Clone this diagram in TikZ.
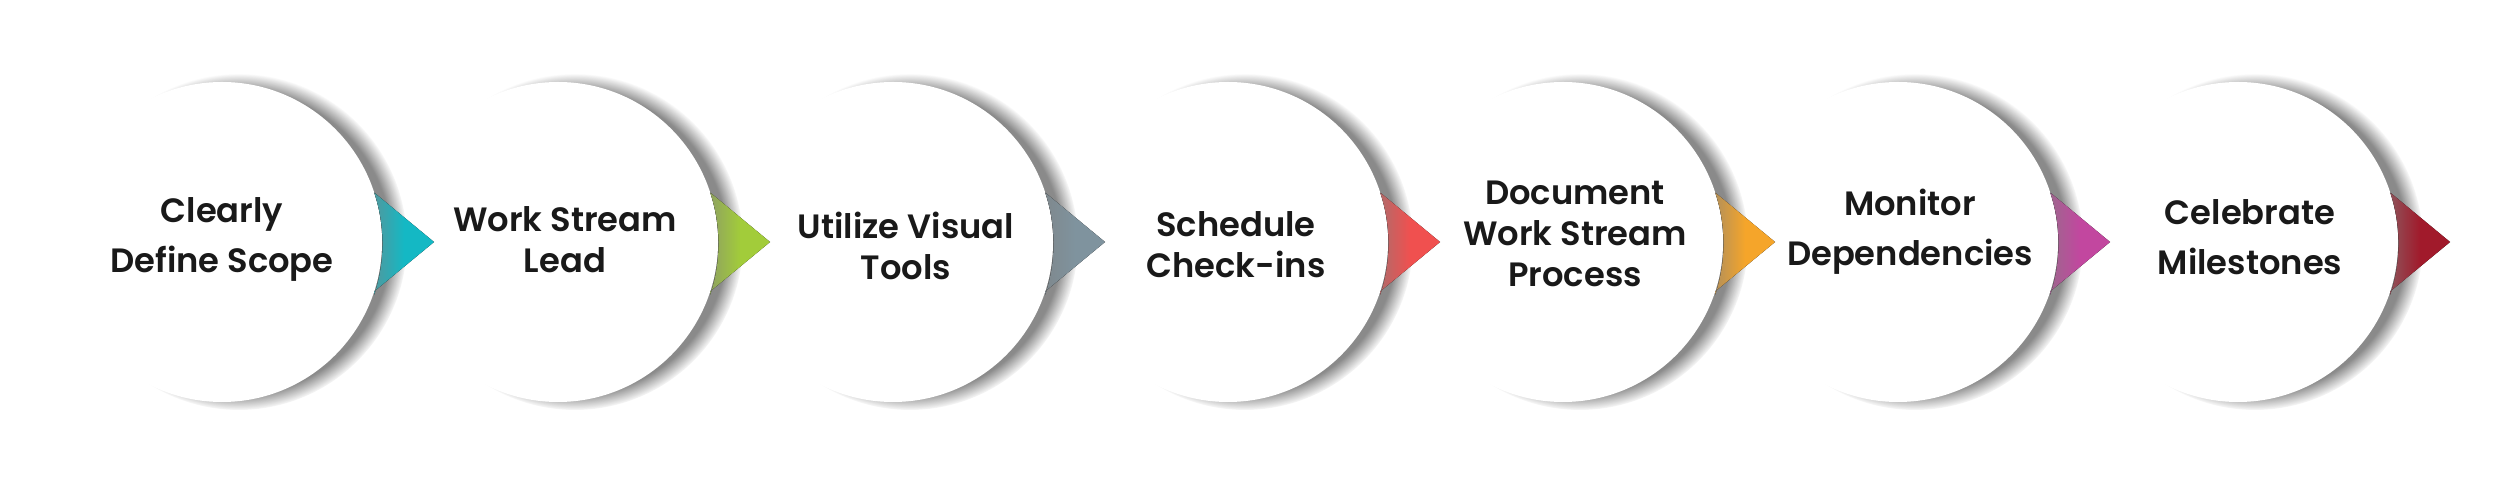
\documentclass[tikz,border=0pt]{standalone}
\usepackage{fontspec}
\setmainfont{Poppins}[BoldFont={Poppins SemiBold}]
\usepackage{tikz}
\usetikzlibrary{shadows,fadings}

\definecolor{cteal}{HTML}{14B8C4}
\definecolor{clime}{HTML}{A2CC3A}
\definecolor{cslate}{HTML}{7F939E}
\definecolor{cred}{HTML}{F0504F}
\definecolor{corange}{HTML}{F5A52A}
\definecolor{cmagenta}{HTML}{C2479F}
\definecolor{cwine}{HTML}{A11A2B}

\begin{document}
\begin{tikzpicture}

    \tikzstyle{stage} = [circle, minimum size=3.2cm, inner sep=0pt, outer sep=0pt, fill=white, circular drop shadow={shadow scale=1.05, shadow xshift=1.6mm, shadow yshift=0mm, opacity=.7, fill=black!65, path fading=circle with fuzzy edge 10 percent}]
    \tikzstyle{lbl} = [align=center, inner sep=0pt, anchor=base, text=black!90, font=\bfseries\fontsize{9.6}{14.5}\selectfont]
    \tikzstyle{tight} = [font=\bfseries\fontsize{9.6}{11.7}\selectfont]
    \tikzstyle{chev} = [draw=none]

    % Background
    \fill[white] (0,-2.49) rectangle (25,2.42);
    \useasboundingbox (0,-2.49) rectangle (25,2.42);

    % Nodes (right to left, so each shadow lies over the next circle)
    \node[stage] at (22.38,0) (c7) {};
    \node[stage] at (18.98,0) (c6) {};
    \node[stage] at (15.63,0) (c5) {};
    \node[stage] at (12.28,0) (c4) {};
    \node[stage] at (8.93,0) (c3) {};
    \node[stage] at (5.58,0) (c2) {};
    \node[stage] at (2.22,0) (c1) {};

    % Arrows
    \fill[chev, left color=cteal!45!gray, right color=cteal, middle color=cteal] (c1.-18.6) -- ([xshift=5.2mm]c1.east) -- (c1.18.6) arc[start angle=18.6, end angle=-18.6, radius=1.6] -- cycle;
    \fill[chev, left color=clime!45!gray, right color=clime, middle color=clime] (c2.-18.6) -- ([xshift=5.2mm]c2.east) -- (c2.18.6) arc[start angle=18.6, end angle=-18.6, radius=1.6] -- cycle;
    \fill[chev, left color=cslate!45!gray, right color=cslate, middle color=cslate] (c3.-18.6) -- ([xshift=5.2mm]c3.east) -- (c3.18.6) arc[start angle=18.6, end angle=-18.6, radius=1.6] -- cycle;
    \fill[chev, left color=cred!45!gray, right color=cred, middle color=cred] (c4.-18.6) -- ([xshift=5.2mm]c4.east) -- (c4.18.6) arc[start angle=18.6, end angle=-18.6, radius=1.6] -- cycle;
    \fill[chev, left color=corange!45!gray, right color=corange, middle color=corange] (c5.-18.6) -- ([xshift=5.2mm]c5.east) -- (c5.18.6) arc[start angle=18.6, end angle=-18.6, radius=1.6] -- cycle;
    \fill[chev, left color=cmagenta!45!gray, right color=cmagenta, middle color=cmagenta] (c6.-18.6) -- ([xshift=5.2mm]c6.east) -- (c6.18.6) arc[start angle=18.6, end angle=-18.6, radius=1.6] -- cycle;
    \fill[chev, left color=cwine!45!gray, right color=cwine, middle color=cwine] (c7.-18.6) -- ([xshift=5.2mm]c7.east) -- (c7.18.6) arc[start angle=18.6, end angle=-18.6, radius=1.6] -- cycle;

    % Labels (anchor at the baseline of the last line)
    \node[lbl] at (2.22,-0.31) (t1) {Clearly\\Define Scope};
    \node[lbl, tight] at (5.65,-0.31) (t2) {Work Stream\\Lead};
    \node[lbl, tight] at (9.06,-0.38) (t3) {Utilize Visual\\Tools};
    \node[lbl, tight] at (12.36,-0.36) (t4) {Schedule\\Check-ins};
    \node[lbl, tight] at (15.75,-0.45) (t5) {Document\\Work Stream\\Process};
    \node[lbl] at (19.10,-0.24) (t6) {Monitor\\Dependencies};
    \node[lbl] at (22.50,-0.33) (t7) {Celebrate\\Milestones};

\end{tikzpicture}
\end{document}
